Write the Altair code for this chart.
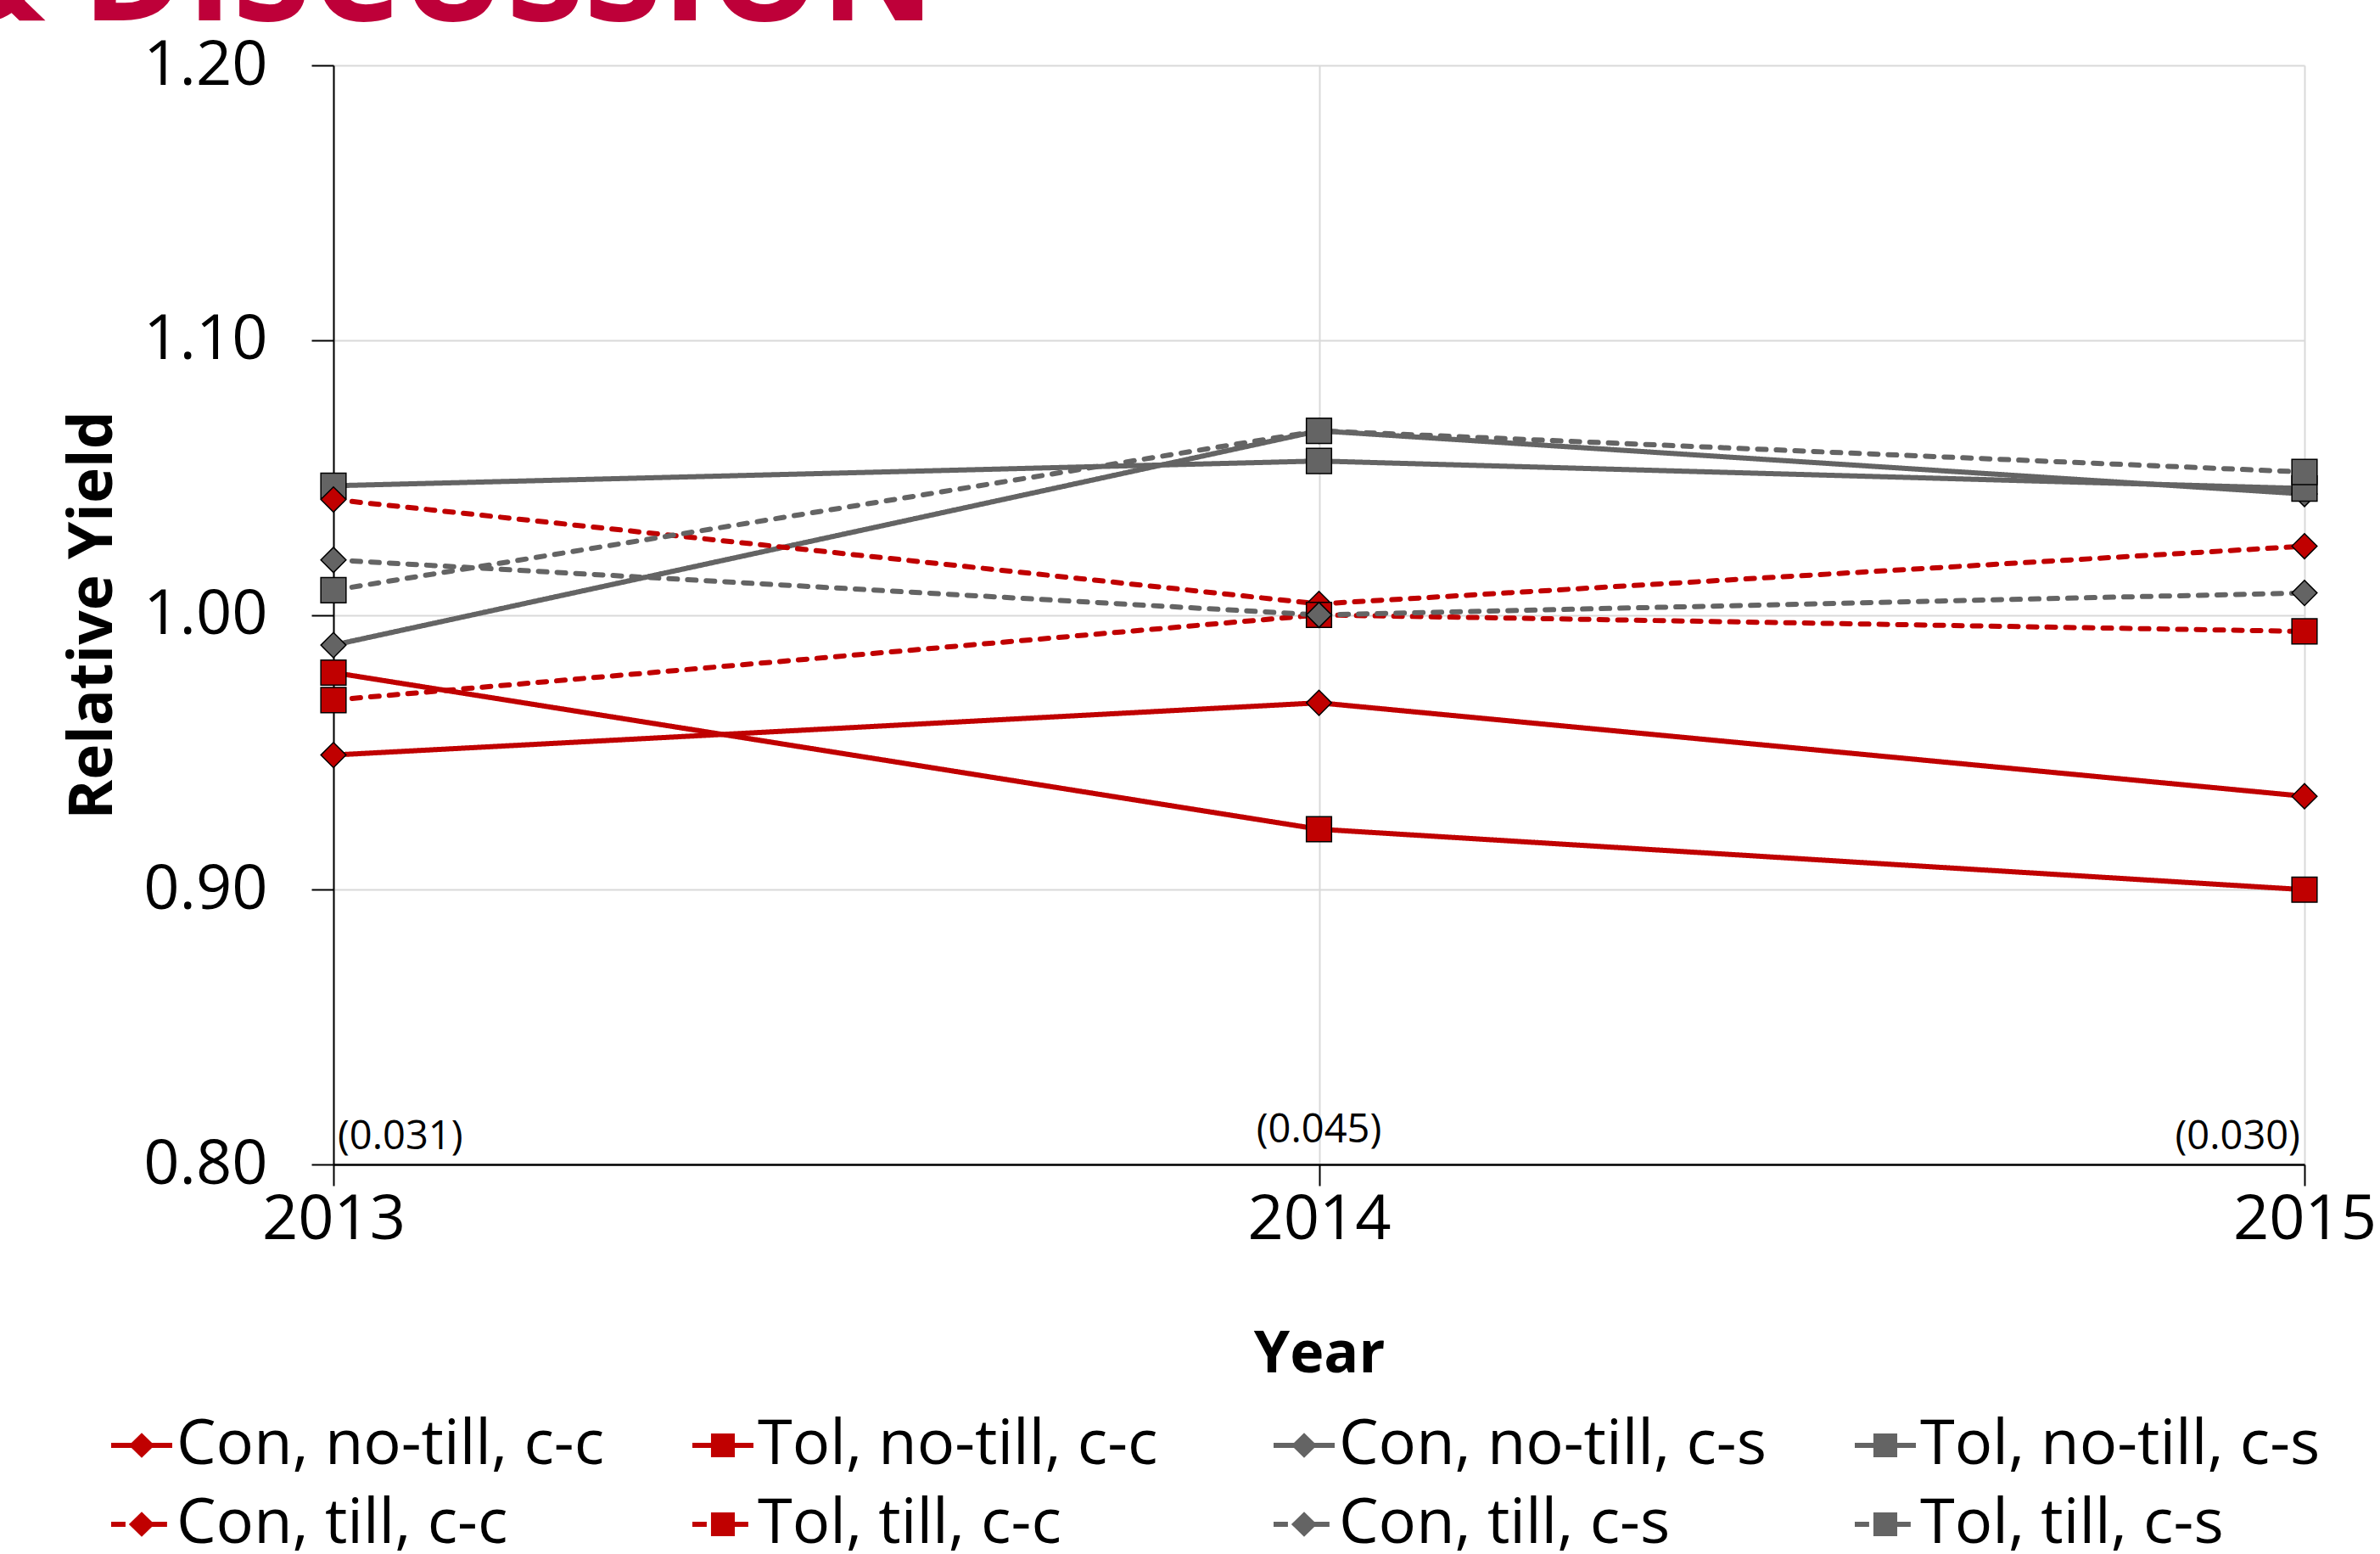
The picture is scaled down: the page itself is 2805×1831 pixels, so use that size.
import altair as alt
import pandas as pd

# ---------------- data ----------------
years = [2013, 2014, 2015]
series = ["Con, no-till, c-c", "Tol, no-till, c-c", "Con, no-till, c-s", "Tol, no-till, c-s",
          "Con, till, c-c", "Tol, till, c-c", "Con, till, c-s", "Tol, till, c-s"]
con_notill_cc = [0.949, 0.968, 0.934]
tol_notill_cc = [0.979, 0.922, 0.900]
con_notill_cs = [0.989, 1.067, 1.044]
tol_notill_cs = [1.047, 1.056, 1.046]
con_till_cc = [1.042, 1.004, 1.025]
tol_till_cc = [0.969, 1.000, 0.994]
con_till_cs = [1.020, 1.000, 1.008]
tol_till_cs = [1.009, 1.067, 1.052]
se_labels = ["(0.031)", "(0.045)", "(0.030)"]
se_y = [0.810, 0.8125, 0.810]
y_ticks = [0.80, 0.90, 1.00, 1.10, 1.20]
title_text = "RESULTS & DISCUSSION"

values = [con_notill_cc, tol_notill_cc, con_notill_cs, tol_notill_cs,
          con_till_cc, tol_till_cc, con_till_cs, tol_till_cs]

rows = []
for i, (name, vals) in enumerate(zip(series, values)):
    for yr, v in zip(years, vals):
        rows.append({"series": name, "order": i, "year": yr, "value": v})
df = pd.DataFrame(rows)
se_df = pd.DataFrame({"year": years, "value": se_y, "label": se_labels})

# ---------------- styles ----------------
RED = "#C00000"
GRAY = "#646464"
FONT = "Open Sans"
colors = [RED, RED, GRAY, GRAY, RED, RED, GRAY, GRAY]
dashes = [[1, 0]] * 4 + [[10, 12]] * 4
shapes = ["diamond", "square"] * 4

line_solid = "M-1,-0.085H1V0.085H-1Z "
line_dash = "M-1,-0.085H-0.53V0.085H-1Z M0.3,-0.085H0.83V0.085H0.3Z "
dia = "M0,-0.41L0.42,0L0,0.41L-0.42,0Z"
sq = "M-0.39,-0.39H0.39V0.39H-0.39Z"
legend_paths = [line_solid + dia, line_solid + sq, line_solid + dia, line_solid + sq,
                line_dash + dia, line_dash + sq, line_dash + dia, line_dash + sq]

W, H = 2323, 1295

x_enc = alt.X("year:O",
              scale=alt.Scale(type="point", domain=years, padding=0),
              axis=alt.Axis(title="Year", labelAngle=0,
                            labelFont=FONT, labelFontSize=74, labelColor="black",
                            labelPadding=4, labelFlush=False, labelOverlap=False,
                            ticks=True, tickSize=25, tickWidth=2, tickColor="black",
                            domainColor="black", domainWidth=2.5,
                            grid=True, gridColor="#D9D9D9", gridWidth=2,
                            titleFont=FONT, titleFontSize=68, titleFontWeight="bold",
                            titleColor="black", titleX=W / 2, titleY=244,
                            titleBaseline="alphabetic", titleAlign="center"))
y_enc = alt.Y("value:Q",
              scale=alt.Scale(domain=[0.8, 1.2], nice=False, zero=False),
              axis=alt.Axis(values=y_ticks, tickCount=5, format=".2f", title="Relative Yield",
                            labelFont=FONT, labelFontSize=74, labelColor="black",
                            labelPadding=52, labelFlush=False, labelOverlap=False,
                            tickSize=26, tickWidth=2, tickColor="black",
                            domainColor="black", domainWidth=2,
                            gridColor="#D9D9D9", gridWidth=2,
                            titleFont=FONT, titleFontSize=71, titleFontWeight="bold",
                            titleColor="black", titleAngle=270, titleX=-262, titleY=H / 2,
                            titleBaseline="alphabetic", titleAlign="center"))

base = alt.Chart(df)

lines = base.mark_line(strokeWidth=6, strokeCap="round").encode(
    x=x_enc, y=y_enc,
    color=alt.Color("series:N", scale=alt.Scale(domain=series, range=colors), legend=None),
    strokeDash=alt.StrokeDash("series:N", scale=alt.Scale(domain=series, range=dashes), legend=None),
    order=alt.Order("order:Q"),
)

points = base.mark_point(filled=True, size=880, stroke="black", strokeWidth=1.5, opacity=1).encode(
    x=x_enc, y=y_enc,
    shape=alt.Shape("series:N", scale=alt.Scale(domain=series, range=shapes), legend=None),
    fill=alt.Fill("series:N", scale=alt.Scale(domain=series, range=colors), legend=None),
)

leg = alt.Legend(title=None, orient="none", legendX=-263, legendY=1589, columns=4,
                 direction="horizontal",
                 gridAlign="all", columnPadding=102, rowPadding=19, padding=0,
                 labelFont=FONT, labelFontSize=74, labelColor="black", labelLimit=3000,
                 labelOffset=4, symbolSize=5184, symbolStrokeWidth=0, symbolOpacity=1)

legend_layer = base.transform_filter("false").mark_point(
    filled=True, size=5184, strokeWidth=0, opacity=1).encode(
    shape=alt.Shape("series:N", scale=alt.Scale(domain=series, range=legend_paths), legend=leg),
    fill=alt.Fill("series:N", scale=alt.Scale(domain=series, range=colors), legend=leg),
)

se_base = alt.Chart(se_df)
txt_kw = dict(font=FONT, fontSize=47, color="black", baseline="middle")
se_left = se_base.transform_filter("datum.year == 2013").mark_text(align="left", dx=5, **txt_kw).encode(
    x=x_enc, y=y_enc, text="label:N")
se_mid = se_base.transform_filter("datum.year == 2014").mark_text(align="center", **txt_kw).encode(
    x=x_enc, y=y_enc, text="label:N")
se_right = se_base.transform_filter("datum.year == 2015").mark_text(align="right", dx=-5, **txt_kw).encode(
    x=x_enc, y=y_enc, text="label:N")

title_layer = alt.Chart(pd.DataFrame({"t": [title_text]})).mark_text(
    font=FONT, fontWeight="bold", fontSize=166, color="#BE0039",
    align="right", baseline="alphabetic").encode(
    x=alt.value(709), y=alt.value(-53), text="t:N")

chart = alt.layer(lines, points, legend_layer, se_left, se_mid, se_right, title_layer).resolve_scale(
    shape="independent", fill="independent"
).properties(
    width=W, height=H,
    autosize=alt.AutoSizeParams(type="none"),
    padding={"left": 393, "top": 77, "right": 89, "bottom": 459},
    background="white",
).configure_view(stroke=None)

chart.save("out.html", embed_options={"renderer": "svg", "actions": False})
